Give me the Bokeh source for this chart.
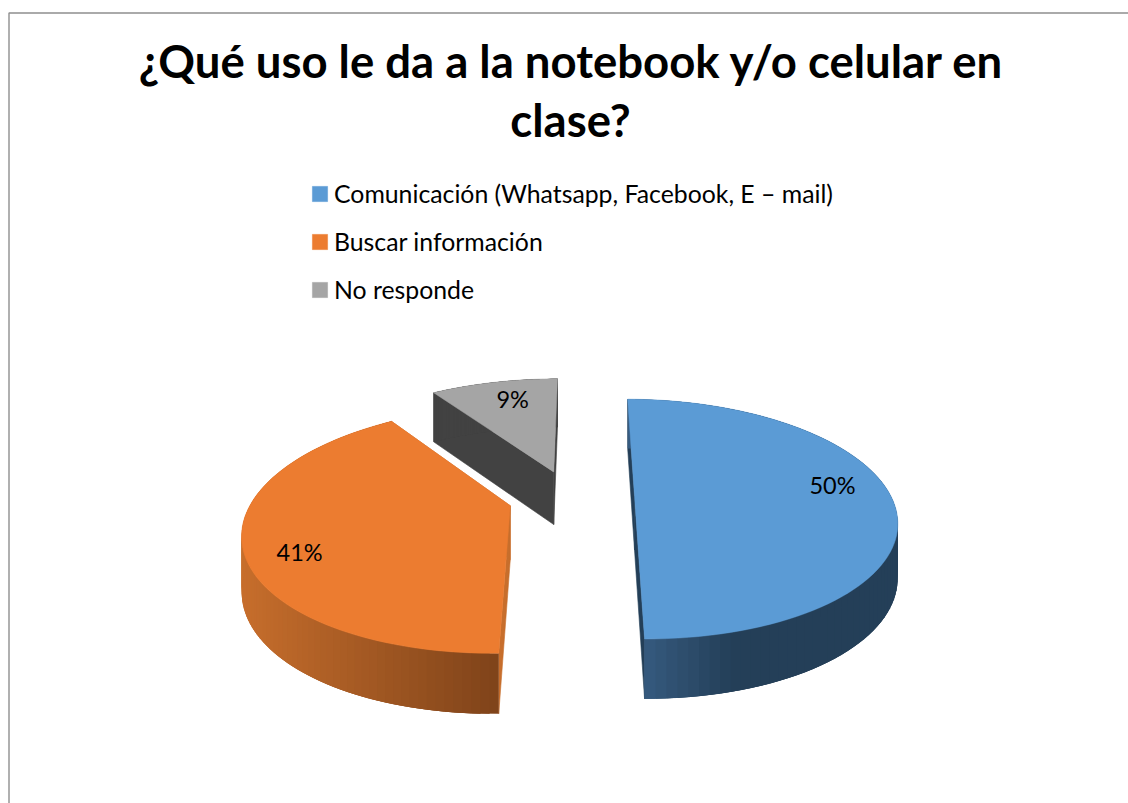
import math
from bokeh.core.properties import value
from bokeh.embed import file_html
from bokeh.models import ColumnDataSource, Legend, LegendItem, Range1d
from bokeh.plotting import figure
from bokeh.resources import INLINE

# ---- chart data ----
title_lines = ["¿Qué uso le da a la notebook y/o celular en", "clase?"]
categories = ["Comunicación (Whatsapp, Facebook, E – mail)", "Buscar información", "No responde"]
percent = [50.0, 40.6, 9.4]

# ---- style ----
top_colors = ["#5b9bd5", "#ec7c30", "#a5a5a5"]
cut_colors = ["#243f58", "#c76e2c", "#424242"]
side_stops = [
    [(0.0, "#365b80"), (0.36, "#243f58"), (1.0, "#243f58")],
    [(0.0, "#c76e2c"), (1.0, "#80441a")],
    [(0.0, "#424242"), (1.0, "#424242")],
]
FONT = "Lato"
START_DEG = 0.3
CX, CY, RX, RY, K = 584.0, 497.0, 257.0, 116.0, 0.19
DEPTH = 53.7
offsets = [(0.195, 0.01), (-0.285, -0.07), (-0.125, 0.23)]
slice_radius = [1.0, 1.0, 1.04]
slice_turn_deg = [0.0, -1.4, -0.6]
label_nudge_deg = [-6.0, -9.0, 2.0]
label_r = [0.79, 0.82, 0.79]


def project(u, v):
    s = 1.0 / (1.0 + K * v)
    return CX + RX * u * s, CY - RY * v * s, s


def drop(s):
    return DEPTH * (1.0 + 0.5 * (s - 1.0))


def hex_rgb(c):
    return tuple(int(c[i:i + 2], 16) for i in (1, 3, 5))


def ramp(stops, t):
    for (t0, c0), (t1, c1) in zip(stops, stops[1:]):
        if t <= t1:
            f = (t - t0) / (t1 - t0)
            a, b = hex_rgb(c0), hex_rgb(c1)
            return "#%02x%02x%02x" % tuple(round(a[i] + (b[i] - a[i]) * f) for i in range(3))
    return stops[-1][1]


p = figure(width=1128, height=803, output_backend="svg", toolbar_location=None,
           x_range=Range1d(0, 1128), y_range=Range1d(803, 0),
           x_axis_location=None, y_axis_location=None, min_border=0)
p.grid.visible = False
p.outline_line_color = None

# chart frame
p.line([8.5, 8.5, 1128], [803, 12.5, 12.5], line_color="#8f8f8f", line_width=1.4)

total = sum(percent)
tops, label_x, label_y = {}, [], []
bounds = []
a = START_DEG
for i, v_ in enumerate(percent):
    span = 360.0 * v_ / total
    bounds.append((a + slice_turn_deg[i], a + span + slice_turn_deg[i]))
    a += span

# far slices first so that the nearer ones lie over them
for i in (2, 1, 0):
    a0, a1 = bounds[i]
    du, dv = offsets[i]
    r = slice_radius[i]
    n = 90
    arc = []
    for j in range(n + 1):
        th = math.radians(a0 + (a1 - a0) * j / n)
        arc.append(project(du + r * math.sin(th), dv + r * math.cos(th)))
    apex = project(du, dv)

    # cut faces
    for edge in (arc[0], arc[-1]):
        pts = [apex, edge]
        fx = [q[0] for q in pts] + [q[0] for q in reversed(pts)]
        fy = [q[1] for q in pts] + [q[1] + drop(q[2]) for q in reversed(pts)]
        p.patch(fx, fy, fill_color=cut_colors[i], line_color=cut_colors[i], line_width=0.6)

    # outer wall, shaded across its width; strips overlap so no seams show
    xmin = min(q[0] for q in arc)
    xmax = max(q[0] for q in arc)
    xs, ys, cs = [], [], []
    for j in range(n):
        q0, q1 = arc[j], arc[min(j + 3, n)]
        xs.append([q0[0], q1[0], q1[0], q0[0]])
        ys.append([q0[1], q1[1], q1[1] + drop(q1[2]), q0[1] + drop(q0[2])])
        mid = arc[j][0]
        if i == 0:
            t = (mid - 646.0) / (xmax - 646.0)
        else:
            t = (mid - xmin) / (xmax - xmin)
        cs.append(ramp(side_stops[i], max(0.0, min(1.0, t))))
    p.patches(xs, ys, fill_color=cs, line_color=None)

    # top surface
    tx = [apex[0]] + [q[0] for q in arc]
    ty = [apex[1]] + [q[1] for q in arc]
    tops[i] = p.patch(tx, ty, fill_color=top_colors[i], line_color=top_colors[i], line_width=0.5)

for i in range(3):
    a0, a1 = bounds[i]
    du, dv = offsets[i]
    th = math.radians((a0 + a1) / 2 + label_nudge_deg[i])
    lx, ly, _ = project(du + label_r[i] * math.sin(th), dv + label_r[i] * math.cos(th))
    label_x.append(lx)
    label_y.append(ly)

# percentage labels
labels = ColumnDataSource(dict(x=label_x, y=label_y, t=[f"{round(v_)}%" for v_ in percent]))
p.text("x", "y", "t", source=labels, text_font=value(FONT), text_font_size="23.5px",
       text_color="#000000", text_align="center", text_baseline="middle", y_offset=-2)

# title
p.text([571, 570], [60, 119], title_lines, text_font=value(FONT), text_font_size="45.5px",
       text_font_style="bold", text_color="#000000", text_align="center",
       text_baseline="alphabetic")

# legend
legend = Legend(items=[LegendItem(label=c, renderers=[tops[i]]) for i, c in enumerate(categories)],
                location=(310, 803 - 304), orientation="vertical",
                glyph_width=19, glyph_height=19, label_standoff=5, spacing=19, padding=0, margin=0,
                label_text_font=FONT, label_text_font_size="24.8px", label_text_color="#000000",
                background_fill_alpha=0, border_line_color=None, click_policy="none")
p.add_layout(legend, "center")

open("out.html", "w").write(file_html(p, INLINE))
